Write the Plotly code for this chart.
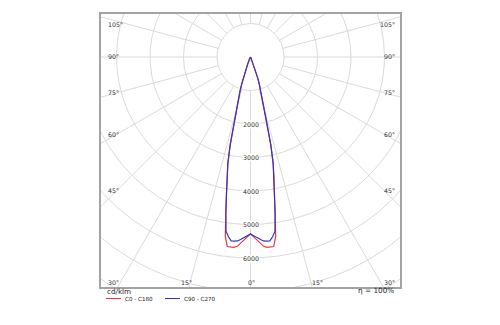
import numpy as np
import plotly.graph_objects as go

# Luminous intensity distribution (cd/klm), gamma angle measured from nadir
gamma = [0, 1, 2, 3, 4, 5, 6, 7, 8, 9, 10, 11, 12, 13, 14, 15, 16, 17, 18, 19,
         20, 22, 24, 26, 28, 30, 35, 40, 45, 50, 60, 70, 80, 90]
c0_c180 = [5280, 5370, 5460, 5565, 5665, 5705, 5712, 5700, 5400, 4720, 4130,
           3680, 3260, 2700, 2000, 1550, 1300, 1080, 850, 650, 450, 220, 90, 30,
           10, 0, 0, 0, 0, 0, 0, 0, 0, 0]
c90_c270 = [5280, 5335, 5390, 5450, 5505, 5515, 5520, 5405, 5250, 4700, 4120,
            3670, 3250, 2700, 2000, 1550, 1300, 1080, 850, 650, 450, 220, 90, 30,
            10, 0, 0, 0, 0, 0, 0, 0, 0, 0]

ring_values = [1000, 2000, 3000, 4000, 5000, 6000, 7000, 8000, 9000]
ring_labels = [2000, 3000, 4000, 5000, 6000]
spoke_step = 15

series_names = ["C0 - C180", "C90 - C270"]
series_colors = ["#e03a3a", "#3434c4"]

W, H = 500, 325
L, R, T, B = 101, 400, 14, 287          # plot area in pixels
CX, CY = 250.5, 57                       # pole position in pixels
PX_PER_CD = 33.5 / 1000.0

x_range = [-(CX - L) / PX_PER_CD, (R - CX) / PX_PER_CD]
y_range = [-(B - CY) / PX_PER_CD, (CY - T) / PX_PER_CD]


def px(x, y):
    """pixel position -> paper coordinates"""
    return (x - L) / (R - L), 1 - (y - T) / (B - T)


def mirrored_xy(angles, values):
    a = np.radians(np.concatenate([-np.array(angles[::-1], float), np.array(angles[1:], float)]))
    r = np.concatenate([np.array(values[::-1], float), np.array(values[1:], float)])
    return r * np.sin(a), -r * np.cos(a)


fig = go.Figure()

# polar grid: rings and spokes
t = np.linspace(0, 2 * np.pi, 721)
gx, gy = [], []
for rv in ring_values:
    gx += list(rv * np.cos(t)) + [None]
    gy += list(rv * np.sin(t)) + [None]
for ang in range(0, 360, spoke_step):
    a = np.radians(ang)
    gx += [ring_values[0] * np.sin(a), 20000 * np.sin(a), None]
    gy += [-ring_values[0] * np.cos(a), -20000 * np.cos(a), None]
fig.add_trace(go.Scatter(x=gx, y=gy, mode="lines", line=dict(color="#dadada", width=1),
                         hoverinfo="skip", showlegend=False))

for name, vals, col in zip(series_names, [c0_c180, c90_c270], series_colors):
    x, y = mirrored_xy(gamma, vals)
    fig.add_trace(go.Scatter(x=x, y=y, mode="lines", name=name,
                             line=dict(color=col, width=1.2), showlegend=False))

ann = []
lab_font = dict(family="DejaVu Sans", size=6.3, color="#333333")
for v in ring_labels:
    ann.append(dict(x=0, y=-v, xref="x", yref="y", text=str(v), showarrow=False,
                    font=lab_font, bgcolor="white", borderpad=0))

side_labels = [("105°", 25), ("90°", 56), ("75°", 92), ("60°", 134), ("45°", 190), ("30°", 282)]
for txt, yy in side_labels:
    xl, yl = px(106, yy)
    ann.append(dict(x=xl, y=yl, xref="paper", yref="paper", text=txt, showarrow=False,
                    xanchor="left", yanchor="middle", font=lab_font))
    xr, yr = px(397, yy)
    ann.append(dict(x=xr, y=yr, xref="paper", yref="paper", text=txt, showarrow=False,
                    xanchor="right", yanchor="middle", font=lab_font))
for txt, xx in [("15°", 186), ("0°", 251), ("15°", 317.5)]:
    xb, yb = px(xx, 282)
    ann.append(dict(x=xb, y=yb, xref="paper", yref="paper", text=txt, showarrow=False,
                    xanchor="center", yanchor="middle", font=lab_font))

# unit, efficiency and legend below the frame
xu, yu = px(105, 291)
ann.append(dict(x=xu, y=yu, xref="paper", yref="paper", text="cd/klm", showarrow=False,
                xanchor="left", yanchor="middle",
                font=dict(family="DejaVu Sans", size=7.2, color="#222222")))
xe, ye = px(396, 290)
ann.append(dict(x=xe, y=ye, xref="paper", yref="paper", text="η = 100%", showarrow=False,
                xanchor="right", yanchor="middle",
                font=dict(family="DejaVu Sans", size=7.3, color="#222222")))

shapes = []
for (name, col, x0) in zip(series_names, series_colors, [106, 165]):
    a0, b0 = px(x0, 298.5)
    a1, _ = px(x0 + 15, 298.5)
    shapes.append(dict(type="line", xref="paper", yref="paper", x0=a0, x1=a1, y0=b0, y1=b0,
                       line=dict(color=col, width=1)))
    at, bt = px(x0 + 17, 298.5)
    ann.append(dict(x=at, y=bt, xref="paper", yref="paper", text=name, showarrow=False,
                    xanchor="left", yanchor="middle",
                    font=dict(family="DejaVu Sans", size=5.6, color="#222222")))

axis_common = dict(showgrid=False, zeroline=False, showticklabels=False, ticks="",
                   showline=True, mirror=True, linecolor="#a3a3a3", linewidth=1.5,
                   fixedrange=True)
fig.update_layout(
    width=W, height=H,
    margin=dict(l=L, r=W - R, t=T, b=H - B),
    paper_bgcolor="white", plot_bgcolor="white",
    xaxis=dict(range=x_range, **axis_common),
    yaxis=dict(range=y_range, **axis_common),
    annotations=ann, shapes=shapes,
)

fig.write_html("out.html")
